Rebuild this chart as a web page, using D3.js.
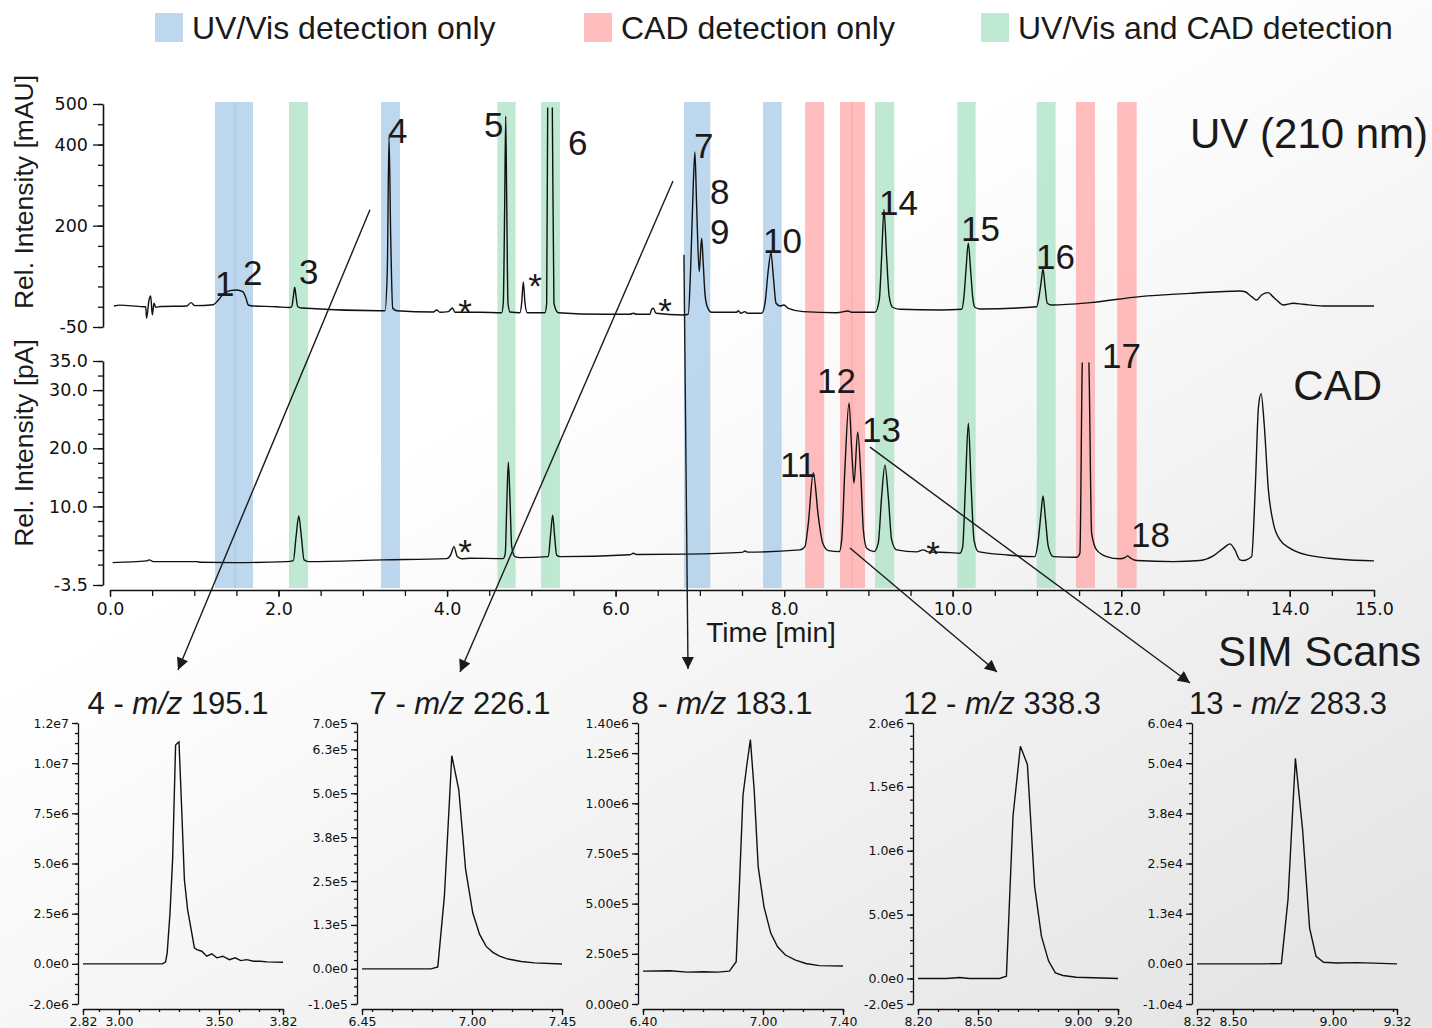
<!DOCTYPE html>
<html>
<head>
<meta charset="utf-8">
<script src="https://cdn.jsdelivr.net/npm/d3@7"></script>
<style>
  body { margin: 0; background: #fff; }
  svg { display: block; }
  text { font-family: "Liberation Sans", Arial, sans-serif; fill: #1a1a1a; }
  .tick text { font-family: "DejaVu Sans", sans-serif; fill: #111; }
</style>
</head>
<body>
<div id="chart"></div>
<script>
// ---- chromatograms: [time (min), intensity] ----
const uvTrace = [[0.047,1.8],[0.119,4],[0.395,0],[0.424,0.1],[0.434,-28.5],[0.463,16.6],[0.483,26.5],[0.502,-20.3],[0.522,8.5],[0.542,-1.3],[0.60,0.5],[0.91,1.8],[0.961,10],[1.009,2.6],[1.226,5],[1.285,16.6],[1.345,31.5],[1.424,39.6],[1.503,41.3],[1.575,37],[1.614,20.8],[1.641,4.3],[1.70,1.8],[1.978,0],[2.128,-2],[2.156,0],[2.176,25],[2.192,48],[2.208,25],[2.228,0],[2.275,-3],[3.204,-9.8],[3.263,-9.8],[3.291,90.6],[3.311,419],[3.331,172.7],[3.355,-3.8],[3.402,-9.8],[3.837,-13],[3.876,-8],[3.916,-13.7],[4.015,-12],[4.063,-3],[4.094,-13.7],[4.39,-13.7],[4.648,-14.7],[4.667,8.5],[4.684,255],[4.696,470],[4.708,255],[4.723,8.5],[4.747,-13],[4.865,-14.7],[4.885,8.5],[4.905,61],[4.925,8.5],[4.952,-14.7],[5.162,-14.7],[5.182,8.5],[5.194,491],[5.20,560],[5.243,560],[5.249,491],[5.268,8.5],[5.32,-14.7],[5.854,-18.6],[6.17,-18.6],[6.21,-16],[6.25,-18.6],[6.408,-18.6],[6.428,-6.3],[6.447,-3.8],[6.479,-16],[6.803,-20.3],[6.862,-18.6],[6.89,90.6],[6.921,296],[6.941,382],[6.961,255],[6.992,86.4],[7.021,168.8],[7.04,107],[7.06,33],[7.088,0],[7.14,-13.7],[7.437,-13.7],[7.456,-9.8],[7.485,-16],[7.536,-12],[7.563,-16],[7.733,-16],[7.773,8.5],[7.812,90.6],[7.844,133],[7.872,74],[7.904,8.5],[7.95,1.8],[7.998,4.3],[8.05,-3.8],[8.228,-12],[8.623,-14.7],[8.76,-10.5],[8.80,-13.7],[9.078,-13.7],[9.129,16.6],[9.157,123],[9.185,240],[9.216,123],[9.247,25],[9.287,-1.3],[9.375,-6.3],[9.849,-8],[10.107,-6.3],[10.134,25],[10.158,90.6],[10.185,156.5],[10.213,90.6],[10.237,25],[10.264,-1.3],[10.324,-5.5],[10.997,0],[11.025,25],[11.048,57.8],[11.072,93],[11.096,49.4],[11.123,8.5],[11.175,4.3],[11.63,10],[12.222,25],[12.816,33],[13.41,38.9],[13.47,37],[13.548,25],[13.607,16.6],[13.666,29],[13.745,34.7],[13.785,28],[13.844,16.6],[13.923,4.3],[14.042,8.5],[14.16,6],[14.398,1.8],[15.0,1.8]];

const cadTrace = [[0.032,0.35],[0.435,0.64],[0.466,0.81],[0.514,0.52],[1.029,0.52],[1.08,0.4],[1.463,0.35],[2.096,0.52],[2.176,0.7],[2.208,4.8],[2.24,8.36],[2.271,4.8],[2.303,0.81],[2.355,0.52],[3.243,0.81],[3.995,1.04],[4.043,1.67],[4.082,3.1],[4.121,1.38],[4.174,1.0],[4.272,1.1],[4.667,1.04],[4.691,1.96],[4.708,9.96],[4.727,17.6],[4.747,11.1],[4.767,3.1],[4.806,1.38],[4.866,1.2],[5.201,1.38],[5.23,5.4],[5.253,8.5],[5.277,4.8],[5.30,1.67],[5.34,1.38],[6.17,1.7],[6.21,1.95],[6.25,1.75],[6.843,1.8],[7.50,2.1],[7.535,2.35],[7.57,2.15],[8.188,2.53],[8.247,3.1],[8.287,7.1],[8.346,15.8],[8.406,8.2],[8.458,3.7],[8.525,2.4],[8.655,2.24],[8.683,4.25],[8.722,16.8],[8.77,27.8],[8.802,19.7],[8.829,14],[8.873,22.8],[8.909,15.7],[8.94,6.0],[8.98,2.8],[9.066,2.24],[9.117,3.7],[9.157,11.7],[9.196,17.1],[9.236,11.7],[9.276,4.25],[9.335,2.53],[9.572,2.2],[9.651,2.53],[9.711,2.2],[9.968,2.07],[10.087,1.96],[10.119,3.1],[10.15,12.9],[10.186,24.3],[10.221,12.9],[10.253,4.25],[10.304,2.24],[10.64,1.67],[10.976,1.38],[11.016,4.25],[11.048,8.8],[11.072,11.8],[11.099,8.2],[11.135,3.1],[11.194,1.38],[11.471,1.27],[11.51,1.96],[11.538,34.7],[11.545,38],[11.61,38],[11.617,34.7],[11.649,5.4],[11.708,2.53],[11.827,1.38],[11.985,1.0],[12.045,1.2],[12.077,1.5],[12.112,1.1],[12.183,0.7],[12.618,0.52],[12.934,0.7],[13.092,1.5],[13.211,2.8],[13.29,3.56],[13.349,2.53],[13.41,0.81],[13.449,0.7],[13.548,1.38],[13.59,12.8],[13.629,27.1],[13.66,29.4],[13.696,24.3],[13.747,12.8],[13.806,7.1],[13.885,4.25],[14.004,2.8],[14.2,1.67],[14.6,0.93],[15.0,0.64]];

// detection windows
const bandStart = [1.246, 1.475, 2.124, 3.216, 4.596, 5.115, 6.811, 7.750, 8.249, 8.663, 8.795, 9.078, 10.055, 10.997, 11.463, 11.953];
const bandEnd   = [1.495, 1.697, 2.350, 3.441, 4.814, 5.340, 7.124, 7.971, 8.475, 8.815, 8.959, 9.307, 10.273, 11.222, 11.689, 12.183];
const bandType  = ["uv","uv","both","uv","both","both","uv","uv","cad","cad","cad","both","both","both","cad","cad"];

const legendKeys   = ["uv", "cad", "both"];
const legendLabels = ["UV/Vis detection only", "CAD detection only", "UV/Vis and CAD detection"];

// peak labels [text, time, intensity at baseline of label]
const uvLabels  = [["1",1.246,26.5],["2",1.578,53.6],["3",2.243,56],["4",3.299,404.6],["5",4.438,419.4],["6",5.435,374],["7",6.930,366.8],["8",7.120,253],["9",7.120,155],["10",7.749,132.6],["14",9.125,226.3],["15",10.098,163],["16",10.988,93]];
const uvStars   = [[4.213,-42.5],[5.043,21.6],[6.586,-40]];
const cadLabels = [["11",7.951,15.1],["12",8.39,29.46],["13",8.924,21.1],["17",11.772,33.75],["18",12.116,3.1]];
const cadStars  = [[4.213,0.13],[9.766,-0.21]];

// axis ticks
const timeLabels = [0, 2, 4, 6, 8, 10, 12, 14, 15];
const uvTickLabels = [500, 400, 200, -50];
const cadTickLabels = [35, 30, 20, 10, -3.5];

// ---- SIM scans: [time (min), counts] ----
const sim4 = [[2.82,0],[3.218,0],[3.233,1e5],[3.241,5.5e5],[3.255,2.53e6],[3.268,5.18e6],[3.283,1.09e7],[3.293,1.10e7],[3.30,1.106e7],[3.313,7.83e6],[3.327,4.19e6],[3.343,2.7e6],[3.358,1.87e6],[3.377,8.0e5],[3.389,7.1e5],[3.414,6.3e5],[3.439,3.8e5],[3.464,5.0e5],[3.489,3.0e5],[3.519,3.8e5],[3.552,2.1e5],[3.581,3.0e5],[3.609,1.6e5],[3.639,2.1e5],[3.673,1.3e5],[3.706,1.3e5],[3.740,1.0e5],[3.82,8e4]];
const sim7 = [[6.45,0],[6.796,0],[6.829,5.7e3],[6.862,2.07e5],[6.899,6.07e5],[6.934,5.10e5],[6.968,2.83e5],[7.004,1.59e5],[7.038,9.8e4],[7.071,6.4e4],[7.104,4.7e4],[7.138,3.6e4],[7.18,2.8e4],[7.246,2.1e4],[7.313,1.7e4],[7.45,1.4e4]];
const sim8 = [[6.40,1.64e5],[6.536,1.66e5],[6.62,1.59e5],[6.705,1.61e5],[6.773,1.59e5],[6.832,1.64e5],[6.866,2.11e5],[6.883,6.17e5],[6.9,1.04e6],[6.92,1.197e6],[6.937,1.317e6],[6.956,1.065e6],[6.976,6.83e5],[7.005,4.84e5],[7.039,3.52e5],[7.073,2.85e5],[7.112,2.44e5],[7.163,2.19e5],[7.214,2.02e5],[7.281,1.91e5],[7.40,1.89e5]];
const sim12 = [[8.20,0],[8.342,0],[8.408,8e3],[8.458,0],[8.608,0],[8.642,1.8e4],[8.675,1.27e6],[8.712,1.818e6],[8.747,1.675e6],[8.783,7.22e5],[8.817,3.31e5],[8.853,1.36e5],[8.887,4.4e4],[8.925,2.3e4],[8.992,1.0e4],[9.20,0]];
const sim13 = [[8.32,0],[8.487,0],[8.653,0],[8.742,1e2],[8.775,1.6e4],[8.812,5.12e4],[8.848,3.34e4],[8.883,8.9e3],[8.915,1.9e3],[8.953,4e2],[9.02,2e2],[9.12,3e2],[9.32,0]];

const simPanels = [
  { peak: "4",  mz: "195.1", data: sim4,  xDomain: [2.82, 3.82], xLabels: [2.82, 3.00, 3.50, 3.82],
    yDomain: [-2e6, 1.2e7], yLabels: [-2e6, 0, 2.5e6, 5e6, 7.5e6, 1e7, 1.2e7], yMinor: 5e5, fmt: ".1e" },
  { peak: "7",  mz: "226.1", data: sim7,  xDomain: [6.45, 7.45], xLabels: [6.45, 7.00, 7.45],
    yDomain: [-1e5, 7e5], yLabels: [-1e5, 0, 1.25e5, 2.5e5, 3.75e5, 5e5, 6.25e5, 7e5], yMinor: 2.5e4, fmt: ".1e" },
  { peak: "8",  mz: "183.1", data: sim8,  xDomain: [6.40, 7.40], xLabels: [6.40, 7.00, 7.40],
    yDomain: [0, 1.4e6], yLabels: [0, 2.5e5, 5e5, 7.5e5, 1e6, 1.25e6, 1.4e6], yMinor: 5e4, fmt: ".2e" },
  { peak: "12", mz: "338.3", data: sim12, xDomain: [8.20, 9.20], xLabels: [8.20, 8.50, 9.00, 9.20],
    yDomain: [-2e5, 2e6], yLabels: [-2e5, 0, 5e5, 1e6, 1.5e6, 2e6], yMinor: 1e5, fmt: ".1e" },
  { peak: "13", mz: "283.3", data: sim13, xDomain: [8.32, 9.32], xLabels: [8.32, 8.50, 9.00, 9.32],
    yDomain: [-1e4, 6e4], yLabels: [-1e4, 0, 1.25e4, 2.5e4, 3.75e4, 5e4, 6e4], yMinor: 2.5e3, fmt: ".1e" }
];

// ---- layout ----
const W = 1432, H = 1028;
const panelLeft = [78, 357, 638, 913, 1192];
const titleShift = [100, 103, 84, 89, 96];
const bandColor = { uv: "#a7cae9", cad: "#ffa7a7", both: "#abe2c4" };

const svg = d3.select("#chart").append("svg")
  .attr("width", W)
  .attr("height", H);

const defs = svg.append("defs");
const grad = defs.append("linearGradient")
  .attr("id", "bg")
  .attr("x1", "0.5").attr("y1", "0.25")
  .attr("x2", "1").attr("y2", "0.85");
grad.append("stop").attr("offset", "0").attr("stop-color", "#ffffff");
grad.append("stop").attr("offset", "1").attr("stop-color", "#e6e6e6");

defs.append("marker")
  .attr("id", "arrow")
  .attr("viewBox", "0 0 10 10")
  .attr("refX", 10).attr("refY", 5)
  .attr("markerWidth", 15).attr("markerHeight", 12)
  .attr("markerUnits", "userSpaceOnUse")
  .attr("orient", "auto")
  .append("path")
  .attr("d", "M0,0L10,5L0,10z")
  .attr("fill", "#1a1a1a");

defs.append("clipPath").attr("id", "clipUV")
  .append("rect").attr("x", 100).attr("y", 107.5).attr("width", 1300).attr("height", 235);
defs.append("clipPath").attr("id", "clipCAD")
  .append("rect").attr("x", 100).attr("y", 362.5).attr("width", 1300).attr("height", 228);

svg.append("rect").attr("width", W).attr("height", H).attr("fill", "url(#bg)");

// scales
const x = d3.scaleLinear().domain([0, 15]).range([110, 1374]);
const yUV = d3.scaleLinear().domain([-50, 500]).range([327, 104]);
const yCAD = d3.scaleLinear().domain([-3.5, 35]).range([585, 361]);
const axisY = 590;

const minus = s => s.replace("\u2212", "-");

// bands
svg.append("g")
  .selectAll("rect")
  .data(bandStart.map((s, i) => ({ s, e: bandEnd[i], type: bandType[i] })))
  .join("rect")
  .attr("x", d => x(d.s))
  .attr("width", d => x(d.e) - x(d.s))
  .attr("y", yUV(500) - 2)
  .attr("height", axisY - 2 - (yUV(500) - 2))
  .attr("fill", d => bandColor[d.type])
  .attr("opacity", 0.75);

// legend
const legendX = [155, 584, 981];
const legend = svg.append("g");
legendKeys.forEach((k, i) => {
  legend.append("rect")
    .attr("x", legendX[i]).attr("y", 13)
    .attr("width", 28).attr("height", 29)
    .attr("fill", bandColor[k]).attr("opacity", 0.75);
  legend.append("text")
    .attr("x", legendX[i] + 37).attr("y", 39)
    .attr("font-size", 32)
    .text(legendLabels[i]);
});

// main axes
function styleAxis(g) {
  g.selectAll(".domain").attr("stroke", "#111").attr("stroke-width", 1.6);
  g.selectAll(".tick line").attr("stroke", "#111").attr("stroke-width", 1.3);
}

const uvAxis = svg.append("g").attr("transform", "translate(103,0)");
uvAxis.append("g")
  .call(d3.axisLeft(yUV).tickValues(d3.range(-50, 501, 50)).tickSize(5).tickSizeOuter(0).tickFormat(""))
  .call(styleAxis);
uvAxis.append("g")
  .call(d3.axisLeft(yUV).tickValues(uvTickLabels).tickSize(10).tickPadding(5).tickFormat(d => minus(d3.format("d")(d))))
  .call(g => g.select(".domain").remove())
  .call(styleAxis)
  .selectAll("text").attr("font-size", 17.5);

const cadAxis = svg.append("g").attr("transform", "translate(103,0)");
cadAxis.append("g")
  .call(d3.axisLeft(yCAD).tickValues(d3.range(0, 35.01, 2.5).concat([-3.5])).tickSize(5).tickSizeOuter(0).tickFormat(""))
  .call(styleAxis);
cadAxis.append("g")
  .call(d3.axisLeft(yCAD).tickValues(cadTickLabels).tickSize(10).tickPadding(5).tickFormat(d => minus(d3.format(".1f")(d))))
  .call(g => g.select(".domain").remove())
  .call(styleAxis)
  .selectAll("text").attr("font-size", 17.5);

const xAxis = svg.append("g").attr("transform", `translate(0,${axisY})`);
xAxis.append("g")
  .call(d3.axisBottom(x).tickValues(d3.range(0, 15.01, 0.5)).tickSize(6).tickSizeOuter(0).tickFormat(""))
  .call(styleAxis);
xAxis.append("g")
  .call(d3.axisBottom(x).tickValues(timeLabels).tickSize(7).tickPadding(6).tickFormat(d3.format(".1f")))
  .call(g => g.select(".domain").remove())
  .call(styleAxis)
  .selectAll("text").attr("font-size", 17.5);

// axis titles
svg.append("text")
  .attr("transform", "translate(33,192) rotate(-90)")
  .attr("text-anchor", "middle").attr("font-size", 26.5)
  .text("Rel. Intensity [mAU]");
svg.append("text")
  .attr("transform", "translate(33,443) rotate(-90)")
  .attr("text-anchor", "middle").attr("font-size", 26.5)
  .text("Rel. Intensity [pA]");
svg.append("text")
  .attr("x", 771).attr("y", 642)
  .attr("text-anchor", "middle").attr("font-size", 28)
  .text("Time [min]");

svg.append("text").attr("x", 1428).attr("y", 148).attr("text-anchor", "end").attr("font-size", 42).text("UV (210 nm)");
svg.append("text").attr("x", 1382).attr("y", 400).attr("text-anchor", "end").attr("font-size", 42).text("CAD");
svg.append("text").attr("x", 1421).attr("y", 666).attr("text-anchor", "end").attr("font-size", 42).text("SIM Scans");

// traces
const uvLine = d3.line().x(d => x(d[0])).y(d => yUV(d[1])).curve(d3.curveMonotoneX);
const cadLine = d3.line().x(d => x(d[0])).y(d => yCAD(d[1])).curve(d3.curveMonotoneX);

svg.append("path")
  .datum(uvTrace)
  .attr("clip-path", "url(#clipUV)")
  .attr("d", uvLine)
  .attr("fill", "none").attr("stroke", "#111").attr("stroke-width", 1.4);

svg.append("path")
  .datum(cadTrace)
  .attr("clip-path", "url(#clipCAD)")
  .attr("d", cadLine)
  .attr("fill", "none").attr("stroke", "#111").attr("stroke-width", 1.4);

// peak labels
const labels = svg.append("g").attr("font-size", 35);
labels.selectAll(".uvl")
  .data(uvLabels).join("text")
  .attr("x", d => x(d[1])).attr("y", d => yUV(d[2]))
  .text(d => d[0]);
labels.selectAll(".cadl")
  .data(cadLabels).join("text")
  .attr("x", d => x(d[1])).attr("y", d => yCAD(d[2]))
  .text(d => d[0]);
labels.selectAll(".uvs")
  .data(uvStars).join("text")
  .attr("x", d => x(d[0])).attr("y", d => yUV(d[1]))
  .attr("text-anchor", "middle")
  .text("*");
labels.selectAll(".cads")
  .data(cadStars).join("text")
  .attr("x", d => x(d[0])).attr("y", d => yCAD(d[1]))
  .attr("text-anchor", "middle")
  .text("*");

// SIM panels
const simTop = 723, simBottom = 1004, simAxisY = 1009;

simPanels.forEach((p, i) => {
  const x0 = panelLeft[i];
  const xs = d3.scaleLinear().domain(p.xDomain).range([x0 + 5, x0 + 205]);
  const ys = d3.scaleLinear().domain(p.yDomain).range([simBottom, simTop]);
  const fmt = d => minus(d3.format(p.fmt)(d)).replace("e+", "e");
  const g = svg.append("g");

  const yMinor = d3.range(p.yDomain[0], p.yDomain[1] + p.yMinor / 2, p.yMinor);
  g.append("g").attr("transform", `translate(${x0},0)`)
    .call(d3.axisLeft(ys).tickValues(yMinor).tickSize(3).tickSizeOuter(0).tickFormat(""))
    .call(styleAxis);
  g.append("g").attr("transform", `translate(${x0},0)`)
    .call(d3.axisLeft(ys).tickValues(p.yLabels).tickSize(6).tickPadding(3).tickFormat(fmt))
    .call(gg => gg.select(".domain").remove())
    .call(styleAxis)
    .selectAll("text").attr("font-size", 12.5);

  const xMinor = d3.range(Math.ceil(p.xDomain[0] * 10 - 1e-6) / 10, p.xDomain[1] + 1e-6, 0.1)
    .concat(p.xDomain);
  g.append("g").attr("transform", `translate(0,${simAxisY})`)
    .call(d3.axisBottom(xs).tickValues(xMinor).tickSize(3).tickSizeOuter(0).tickFormat(""))
    .call(styleAxis);
  g.append("g").attr("transform", `translate(0,${simAxisY})`)
    .call(d3.axisBottom(xs).tickValues(p.xLabels).tickSize(6).tickPadding(2).tickFormat(d3.format(".2f")))
    .call(gg => gg.select(".domain").remove())
    .call(styleAxis)
    .selectAll("text").attr("font-size", 12.5);

  g.selectAll(".domain").attr("stroke-width", 1.3);

  g.append("path")
    .datum(p.data)
    .attr("d", d3.line().x(d => xs(d[0])).y(d => ys(d[1])))
    .attr("fill", "none").attr("stroke", "#111").attr("stroke-width", 1.4);

  const title = g.append("text")
    .attr("x", x0 + titleShift[i]).attr("y", 714)
    .attr("text-anchor", "middle").attr("font-size", 31);
  title.append("tspan").text(p.peak + " - ");
  title.append("tspan").attr("font-style", "italic").text("m/z");
  title.append("tspan").text(" " + p.mz);
});

// arrows from peaks down to their SIM scans
const arrows = [
  { t: 3.085, v: 239, trace: "uv",  panel: 0, dx: 100, y: 670 },
  { t: 6.681, v: 310, trace: "uv",  panel: 1, dx: 103, y: 672 },
  { t: 6.811, v: 128, trace: "uv",  panel: 2, dx: 50,  y: 669 },
  { t: 8.781, v: 2.87, trace: "cad", panel: 3, dx: 84, y: 672 },
  { t: 9.019, v: 20.2, trace: "cad", panel: 4, dx: -2, y: 683 }
];

svg.append("g")
  .selectAll("line")
  .data(arrows)
  .join("line")
  .attr("x1", d => x(d.t))
  .attr("y1", d => d.trace === "uv" ? yUV(d.v) : yCAD(d.v))
  .attr("x2", d => panelLeft[d.panel] + d.dx)
  .attr("y2", d => d.y)
  .attr("stroke", "#1a1a1a").attr("stroke-width", 1.4)
  .attr("marker-end", "url(#arrow)");
</script>
</body>
</html>
